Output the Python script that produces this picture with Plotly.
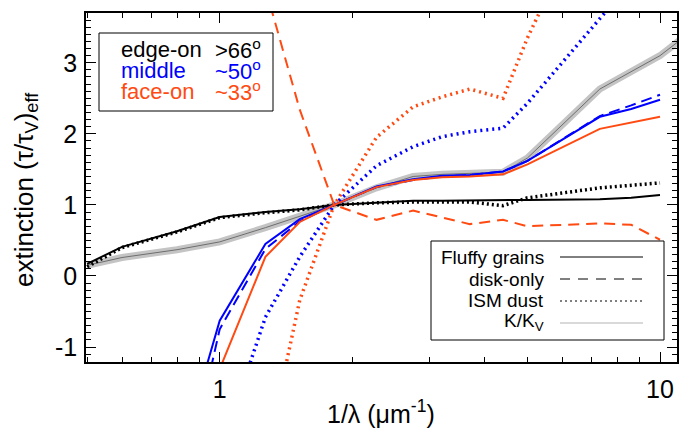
import plotly.graph_objects as go
import math

# wavenumber grid (1/lambda, micron^-1)
xs = [0.5, 0.6, 0.8, 1.0, 1.27, 1.52, 1.82, 2.27, 2.75, 3.2, 3.7, 4.4, 5.0, 7.3, 8.6, 10.0]

# edge-on (black)
edge_fluffy = [0.17, 0.41, 0.63, 0.83, 0.90, 0.94, 1.0, 1.03, 1.06, 1.06, 1.06, 1.06, 1.07, 1.08, 1.10, 1.14]
edge_ism = [0.13, 0.40, 0.62, 0.82, 0.89, 0.93, 1.0, 1.03, 1.04, 1.04, 1.04, 0.99, 1.10, 1.24, 1.28, 1.31]

# middle (blue)
mid_fluffy = [None, None, -2.7, -0.63, 0.45, 0.80, 1.0, 1.26, 1.36, 1.41, 1.42, 1.47, 1.62, 2.24, 2.35, 2.48]
mid_disk = [None, None, -3.4, -0.75, 0.38, 0.77, 1.0, 1.25, 1.35, 1.40, 1.42, 1.47, 1.62, 2.25, 2.40, 2.55]
mid_ism = [None, None, None, -2.5, -0.58, 0.27, 1.0, 1.55, 1.82, 1.96, 2.03, 2.08, 2.43, 3.62, None, 4.6]

# face-on (red)
face_fluffy = [None, None, -4.0, -1.31, 0.27, 0.76, 1.0, 1.25, 1.35, 1.39, 1.40, 1.43, 1.57, 2.07, None, 2.24]
face_disk = [None, None, None, None, 4.05, 2.34, 1.0, 0.79, 0.92, None, 0.73, 0.79, 0.70, 0.74, 0.72, 0.51]
face_ism = [None, None, None, None, -2.6, -0.34, 1.0, 1.95, 2.38, 2.52, 2.63, 2.50, 3.35, 5.5, None, 6.5]

# dust opacity K/K_V (grey)
kk_x = [0.5, 0.6, 0.8, 1.0, 1.27, 1.52, 1.82, 2.27, 2.75, 3.2, 3.7, 4.4, 5.0, 7.3, 10.0, 11.5]
kk = [0.15, 0.26, 0.37, 0.48, 0.68, 0.84, 1.0, 1.24, 1.40, 1.43, 1.44, 1.46, 1.66, 2.63, 3.10, 3.39]

BLACK = "#000000"
BLUE = "#0000ff"
RED = "#ff4a12"

fig = go.Figure()

# grey band + thin centre
fig.add_trace(go.Scatter(x=kk_x, y=kk, mode="lines",
                         line=dict(color="#c4c4c4", width=7), showlegend=False))
fig.add_trace(go.Scatter(x=kk_x, y=kk, mode="lines",
                         line=dict(color="#6e6e6e", width=1), showlegend=False))

def add(y, color, dash, width):
    fig.add_trace(go.Scatter(x=xs, y=y, mode="lines", connectgaps=True,
                             line=dict(color=color, width=width, dash=dash),
                             showlegend=False))

add(edge_ism, BLACK, "2px,3px", 3.5)
add(edge_fluffy, BLACK, "solid", 2)
add(mid_ism, BLUE, "2px,4px", 3.5)
add(mid_disk, BLUE, "11px,6px", 2)
add(mid_fluffy, BLUE, "solid", 2)
add(face_ism, RED, "2px,4px", 3.5)
add(face_disk, RED, "11px,7px", 2)
add(face_fluffy, RED, "solid", 2)

FONT = "Liberation Sans, Arial, Helvetica, sans-serif"

fig.update_layout(
    width=681, height=435,
    margin=dict(l=86, r=4, t=13, b=73, autoexpand=False),
    paper_bgcolor="white", plot_bgcolor="white",
    font=dict(family=FONT, size=25, color="black"),
    showlegend=False,
)

fig.update_xaxes(
    type="log", range=[math.log10(0.497), math.log10(10.93)],
    automargin=False,
    showgrid=False, zeroline=False,
    showline=True, linecolor="black", linewidth=1.5, mirror="allticks",
    ticks="inside", ticklen=10, tickwidth=1.2, tickcolor="black",
    tickvals=[1, 10], ticktext=["1", "10"],
    ticklabelstandoff=4,
    minor=dict(ticks="inside", ticklen=5, tickwidth=1, tickcolor="black", dtick="D1"),
)
fig.update_yaxes(
    range=[-1.21, 3.70],
    automargin=False,
    showgrid=False, zeroline=False,
    showline=True, linecolor="black", linewidth=1.5, mirror="allticks",
    ticks="inside", ticklen=10, tickwidth=1.2, tickcolor="black",
    tickvals=[-1, 0, 1, 2, 3], ticktext=["-1", "0", "1", "2", "3"],
    ticklabelstandoff=2,
    minor=dict(ticks="inside", ticklen=5, tickwidth=1, tickcolor="black", dtick=0.1),
)

def px2x(px):
    return (px - 86) / 591.0

def px2y(py):
    return (362 - py) / 349.0

ann = []
# axis titles
ann.append(dict(text="extinction (τ/τ<sub>V</sub>)<sub>eff</sub>", x=px2x(25), y=px2y(190),
                xref="paper", yref="paper", textangle=-90, showarrow=False,
                font=dict(size=26), xanchor="center", yanchor="middle"))
ann.append(dict(text="1/λ (μm<sup>-1</sup>)", x=px2x(381), y=px2y(412),
                xref="paper", yref="paper", showarrow=False,
                font=dict(size=25), xanchor="center", yanchor="middle"))

# inclination legend
rows = [("edge-on", ">66<sup>o</sup>", BLACK, 49),
        ("middle", "~50<sup>o</sup>", BLUE, 70),
        ("face-on", "~33<sup>o</sup>", RED, 91)]
for name, val, col, yy in rows:
    ann.append(dict(text=name, x=px2x(119), y=px2y(yy), xref="paper", yref="paper",
                    showarrow=False, xanchor="left", yanchor="middle",
                    font=dict(size=22, color=col)))
    ann.append(dict(text=val, x=px2x(213), y=px2y(yy), xref="paper", yref="paper",
                    showarrow=False, xanchor="left", yanchor="middle",
                    font=dict(size=22, color=col)))

# line-style legend
lrows = [("Fluffy grains", 257), ("disk-only", 279), ("ISM dust", 300), ("K/K<sub>V</sub>", 322)]
for name, yy in lrows:
    ann.append(dict(text=name, x=px2x(546), y=px2y(yy), xref="paper", yref="paper",
                    showarrow=False, xanchor="right", yanchor="middle",
                    font=dict(size=19, color="black")))

shapes = [
    dict(type="rect", xref="paper", yref="paper", x0=px2x(99), x1=px2x(273),
         y0=px2y(111), y1=px2y(33), line=dict(color="black", width=1), fillcolor="white", layer="above"),
    dict(type="rect", xref="paper", yref="paper", x0=px2x(431), x1=px2x(664),
         y0=px2y(340), y1=px2y(241), line=dict(color="black", width=1), fillcolor="white", layer="above"),
]
samples = [(257, "black", "solid", 1), (279, "black", "10px,8px", 1),
           (301, "black", "2px,3px", 1), (323, "#b4b4b4", "solid", 1.2)]
for yy, col, dash, w in samples:
    shapes.append(dict(type="line", xref="paper", yref="paper", x0=px2x(560), x1=px2x(643),
                       y0=px2y(yy), y1=px2y(yy), line=dict(color=col, width=w, dash=dash),
                       layer="above"))

fig.update_layout(annotations=ann, shapes=shapes)

fig.write_html("out.html", config={"displayModeBar": False},
               post_script="document.body.style.margin='0';document.body.style.padding='0';")
